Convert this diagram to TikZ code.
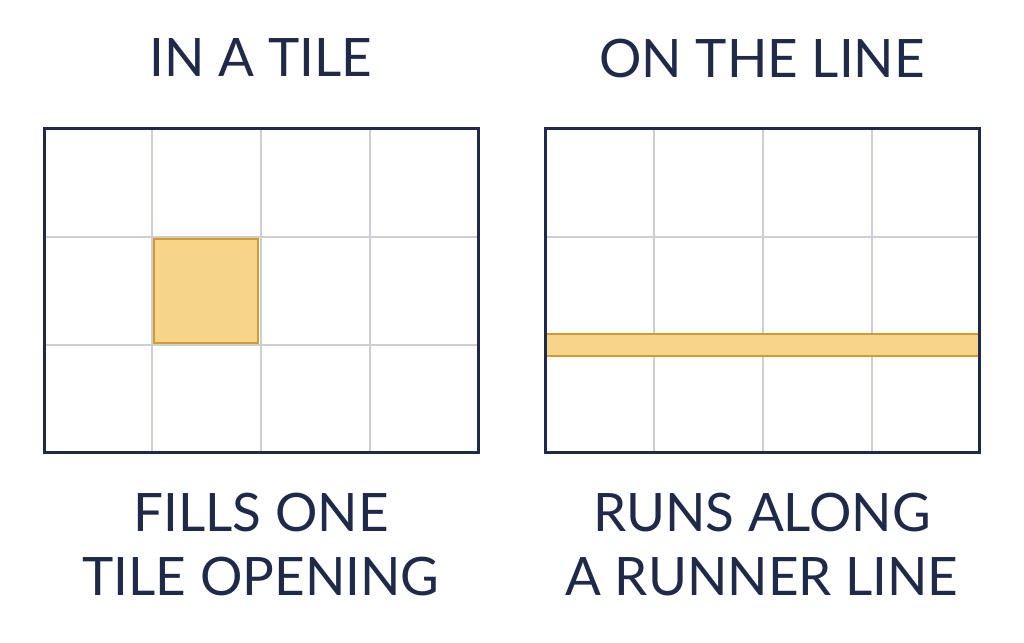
\documentclass[tikz,border=0pt]{standalone}
\usepackage{fontspec}
\setmainfont{Lato}
\begin{document}
\definecolor{navy}{HTML}{1F2A4A}
\definecolor{gridc}{HTML}{CDCDD6}
\definecolor{goldf}{HTML}{F6D58A}
\definecolor{goldd}{HTML}{D89B2A}
\begin{tikzpicture}[x=1pt,y=-1pt,
  frame/.style={draw=navy,line width=3pt},
  gl/.style={draw=gridc,line width=1.5pt},
  hl/.style={fill=goldf,draw=goldd,line width=1.5pt},
  lab/.style={text=navy,font=\fontsize{53}{64}\selectfont,align=center,inner sep=0pt}]
\useasboundingbox (0,0) rectangle (1024,642);
% left grid
\foreach \x in {152,261,370} \draw[gl] (\x,128) -- (\x,452);
\foreach \y in {237,345} \draw[gl] (44,\y) -- (478,\y);
\draw[hl] (154,239) rectangle (258,343);
\draw[frame] (44,128) rectangle (478,452);
% right grid
\foreach \x in {654,763,872} \draw[gl] (\x,128) -- (\x,452);
\foreach \y in {237,345} \draw[gl] (545,\y) -- (979,\y);
\draw[hl] (545,334) rectangle (979,356);
\draw[frame] (545,128) rectangle (979,452);
% texts
\node[lab] (t1) at (261,58) {IN A TILE};
\node[lab] (t2) at (762,58) {ON THE LINE};
\node[lab] (b1) at (261,545) {FILLS ONE\\TILE OPENING};
\node[lab] (b2) at (762,545) {RUNS ALONG\\A RUNNER LINE};
\end{tikzpicture}
\end{document}
